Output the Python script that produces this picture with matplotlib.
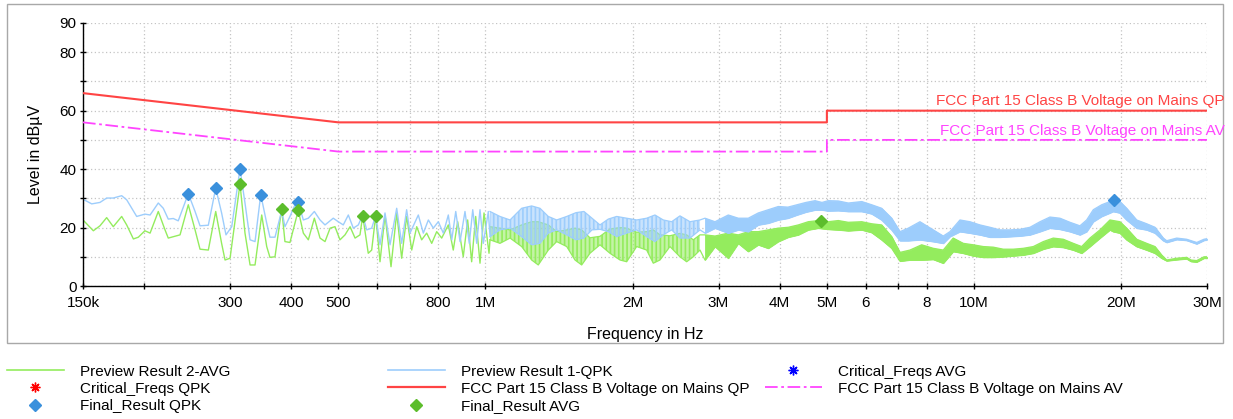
import numpy as np
import matplotlib
matplotlib.use('Agg')
import matplotlib.pyplot as plt
from matplotlib.lines import Line2D
from matplotlib.patches import Rectangle

plt.rcParams['font.family'] = ['Liberation Sans', 'DejaVu Sans']
plt.rcParams['hatch.linewidth'] = 1.2

# ---------------- data (frequency in MHz, level in dBuV) ----------------
# Preview Result 1-QPK, resolvable part (150 kHz .. 1 MHz)
qpk_line_f = [0.150, 0.1563, 0.1625, 0.1677, 0.1730, 0.1800, 0.1843, 0.1932, 0.2008, 0.2058,
              0.2139, 0.2190, 0.2242, 0.2296, 0.2350, 0.2464, 0.2544, 0.2604, 0.2708, 0.2804,
              0.2883, 0.2943, 0.3024, 0.3144, 0.3219, 0.3297, 0.3375, 0.3467, 0.3566, 0.3621,
              0.3708, 0.3827, 0.3886, 0.3979, 0.4074, 0.4138, 0.4238, 0.4339, 0.4464, 0.4585,
              0.4694, 0.4880, 0.4996, 0.5116, 0.5239, 0.5364, 0.5492, 0.5607, 0.5714, 0.5849,
              0.5961, 0.6083, 0.6228, 0.6377, 0.6581, 0.6737, 0.6897, 0.7006, 0.7287, 0.7461,
              0.7640, 0.7821, 0.8007, 0.8199, 0.8394, 0.8531, 0.8693, 0.8871, 0.9080, 0.9266,
              0.9418, 0.9596, 0.9746, 0.9900, 1.0136]
qpk_line = [29.7, 28.1, 28.6, 30.1, 30.1, 30.9, 29.5, 23.8, 24.6, 24.3,
            28.4, 26.6, 22.9, 23.1, 22.3, 31.6, 25.5, 20.6, 20.8, 33.5,
            25.0, 17.5, 20.3, 40.1, 28.4, 15.8, 15.2, 31.3, 21.5, 16.7,
            16.7, 25.8, 20.3, 23.8, 27.8, 28.7, 22.6, 23.2, 25.5, 22.6,
            20.9, 23.2, 22.0, 20.9, 24.3, 19.8, 20.9, 24.3, 19.2, 19.8,
            24.1, 14.1, 25.0, 14.1, 26.6, 14.6, 26.1, 18.1, 24.3, 18.1,
            22.6, 19.8, 22.0, 18.1, 24.3, 15.8, 25.5, 15.2, 25.5, 14.6,
            26.1, 14.6, 26.1, 14.6, 25.5]

# Preview Result 2-AVG, resolvable part
avg_line_f = [0.150, 0.1575, 0.1625, 0.1677, 0.1730, 0.1800, 0.1843, 0.1902, 0.1947, 0.2008,
              0.2058, 0.2139, 0.2208, 0.2242, 0.2370, 0.2464, 0.2544, 0.2604, 0.2708, 0.2804,
              0.2883, 0.2930, 0.3000, 0.3144, 0.3219, 0.3297, 0.3375, 0.3483, 0.3566, 0.3621,
              0.3708, 0.3827, 0.3886, 0.3979, 0.4138, 0.4238, 0.4339, 0.4464, 0.4585, 0.4694,
              0.4808, 0.4920, 0.5037, 0.5158, 0.5282, 0.5408, 0.5535, 0.5607, 0.5755, 0.5849,
              0.5961, 0.6083, 0.6228, 0.6407, 0.6581, 0.6737, 0.6897, 0.7064, 0.7232, 0.7403,
              0.7580, 0.7762, 0.7947, 0.8136, 0.8394, 0.8592, 0.8772, 0.9006, 0.9195, 0.9370,
              0.9550, 0.9746, 0.9932, 1.0169]
avg_line = [22.6, 18.9, 20.6, 23.4, 20.3, 23.8, 20.9, 16.1, 16.7, 18.9,
            18.1, 25.5, 19.2, 16.4, 17.5, 27.8, 19.2, 12.6, 12.3, 25.5,
            14.6, 8.9, 9.5, 34.9, 18.1, 7.2, 7.2, 24.3, 13.5, 9.8,
            10.0, 26.4, 15.2, 14.9, 25.9, 18.1, 15.8, 23.2, 16.4, 15.2,
            19.8, 20.3, 15.8, 17.5, 20.3, 16.4, 17.5, 24.1, 11.2, 12.3,
            24.1, 8.3, 24.3, 6.6, 25.0, 9.5, 23.8, 12.3, 20.3, 15.8,
            18.1, 14.6, 18.6, 16.4, 20.9, 12.3, 22.0, 10.0, 22.6, 8.3,
            23.8, 7.8, 25.0, 11.2]

# dense part (1 MHz .. 30 MHz): upper / lower envelope of the fast ripple
qpk_band_f = [1.0217, 1.0709, 1.1228, 1.1860, 1.2432, 1.2930, 1.3448, 1.3989, 1.4666, 1.5321,
              1.5910, 1.6522, 1.7156, 1.7841, 1.8561, 1.9458, 2.0398, 2.1380, 2.2233, 2.3121,
              2.4054, 2.5014, 2.6225, 2.7492,
              2.8146, 2.9505, 3.1412, 3.2931, 3.4512, 3.6180, 3.7928, 3.9755, 4.1619, 4.3421,
              4.5300, 4.7273, 4.8857, 5.0330, 5.2758, 5.5305, 5.8922, 6.1751, 6.4728, 6.7854, 7.0565,
              7.3382, 7.7531, 8.2544, 8.6528, 8.9301, 9.3618, 9.8130, 10.288, 10.785, 11.306,
              11.852, 12.423, 13.023, 13.653, 14.309, 15.000, 15.724, 16.481, 17.011, 17.550,
              18.259, 18.986,
              19.281, 19.899, 20.538, 21.532, 22.573, 23.475, 24.411, 24.808, 26.007, 27.258,
              28.575, 29.573, 30.0]
qpk_band_hi = [25.5, 23.8, 22.6, 26.6, 27.4, 26.6, 23.8, 22.6, 23.8, 25.1,
               25.5, 23.2, 20.9, 22.9, 23.8, 23.2, 22.6, 23.2, 24.3, 22.6,
               22.0, 24.0, 22.0, 22.6,
               23.2, 22.0, 24.3, 23.2, 23.2, 25.0, 26.1, 27.2, 27.0, 27.8,
               28.6, 29.2, 28.6, 29.2, 29.1, 28.4, 28.9, 27.8, 26.6, 23.2, 18.6,
               19.8, 22.0, 19.2, 17.1, 18.6, 22.6, 22.0, 20.9, 20.1, 19.2,
               19.2, 19.4, 20.1, 22.0, 23.6, 23.2, 21.8, 20.6, 22.6, 26.1,
               27.8, 28.9,
               29.5, 28.9, 26.6, 22.6, 21.3, 20.1, 16.4, 15.5, 16.4, 16.0,
               14.9, 16.0, 16.2]
qpk_band_lo = [16.9, 19.2, 19.8, 16.9, 14.1, 14.6, 18.1, 19.2, 17.5, 15.8,
               16.4, 19.2, 19.4, 18.6, 16.9, 18.1, 19.2, 16.9, 15.2, 17.5,
               19.2, 16.4, 16.4, 19.2,
               18.1, 19.8, 18.1, 19.2, 18.6, 20.9, 21.5, 22.6, 23.2, 24.3,
               25.3, 26.0, 26.0, 25.7, 25.8, 25.5, 25.5, 24.7, 22.6, 19.2, 15.5,
               15.5, 15.8, 15.2, 14.6, 16.9, 18.6, 18.1, 17.5, 16.7, 16.7,
               16.9, 17.1, 17.5, 18.6, 19.8, 19.4, 18.6, 17.5, 18.6, 22.0,
               23.8, 25.0,
               25.5, 25.0, 22.6, 19.8, 19.2, 18.1, 15.5, 14.9, 15.9, 15.6,
               14.4, 15.6, 15.8]

avg_band_f = [1.0217, 1.0709, 1.1228, 1.1860, 1.2432, 1.2827, 1.3448, 1.3989, 1.4666, 1.5250,
              1.5739, 1.6366, 1.7156, 1.7985, 1.8855, 1.9458, 2.0398, 2.1380, 2.2059, 2.2766,
              2.3861, 2.5014, 2.5817, 2.6634, 2.7492,
              2.8146, 2.9505, 3.1412, 3.2931, 3.4512, 3.6180, 3.7928, 3.9755, 4.1678, 4.3691,
              4.5794, 4.8009, 5.0330, 5.2758, 5.5305, 5.8922, 6.1751, 6.4728, 6.7854, 7.0565,
              7.3959, 7.8159, 8.2544, 8.6528, 9.0692, 9.5081, 9.9680, 10.450, 10.953, 11.482,
              12.037, 12.619, 13.229, 13.866, 14.534, 15.236, 15.969, 16.614, 17.277, 18.113,
              18.986,
              19.281, 19.899, 20.538, 21.532, 22.573, 23.475, 24.226, 24.808, 26.007, 27.258,
              27.816, 28.575, 29.573, 30.0]
avg_band_hi = [20.3, 19.8, 19.2, 20.9, 22.0, 22.0, 20.9, 18.6, 19.2, 19.8,
               19.2, 16.5, 17.0, 19.5, 20.0, 19.8, 18.4, 18.6, 19.2, 17.5,
               17.2, 18.0, 17.5, 15.8, 17.5,
               17.5, 17.1, 18.1, 17.5, 18.6, 18.6, 19.2, 19.8, 20.1, 20.9,
               22.0, 22.4, 22.0, 22.4, 21.8, 22.0, 21.3, 20.9, 16.9, 11.5,
               12.3, 14.1, 12.9, 12.3, 16.4, 14.6, 14.1, 13.5, 13.3, 12.6,
               12.6, 12.9, 13.5, 15.2, 16.4, 16.0, 14.6, 13.5, 16.4, 19.2,
               22.6,
               22.4, 22.0, 19.8, 16.0, 14.6, 13.5, 10.6, 8.9, 9.5, 9.8,
               8.9, 8.7, 10.0, 10.0]
avg_band_lo = [15.8, 14.6, 16.4, 13.5, 8.9, 7.2, 12.3, 15.2, 13.5, 8.9,
               7.2, 11.2, 14.1, 11.2, 8.9, 8.3, 13.5, 12.3, 7.8, 8.9,
               13.5, 10.0, 8.3, 10.0, 12.3,
               8.9, 13.5, 9.5, 14.6, 11.8, 14.1, 12.9, 15.2, 16.7, 17.5,
               19.2, 19.8, 19.4, 19.2, 18.9, 19.2, 18.3, 15.8, 12.9, 8.5,
               8.9, 8.9, 9.1, 7.8, 11.8, 11.2, 10.3, 9.8, 9.8, 10.0,
               10.3, 10.6, 11.2, 12.6, 13.5, 13.2, 12.3, 11.2, 13.5, 16.4,
               19.2,
               18.6, 18.1, 15.8, 13.5, 12.3, 11.2, 9.5, 8.6, 9.0, 9.3,
               8.4, 8.2, 9.5, 9.5]

# limits
qp_lim_f = [0.15, 0.5, 5.0, 5.0, 30.0]
qp_lim = [66, 56, 56, 60, 60]
av_lim_f = [0.15, 0.5, 5.0, 5.0, 30.0]
av_lim = [56, 46, 46, 50, 50]

# final results / critical frequencies
final_qpk_f = [0.2458, 0.2805, 0.3144, 0.3467, 0.4140, 19.38]
final_qpk = [31.6, 33.5, 40.1, 31.3, 28.7, 29.4]
final_avg_f = [0.3144, 0.3827, 0.4140, 0.5606, 0.5960, 4.854]
final_avg = [34.9, 26.4, 25.9, 24.1, 24.1, 22.3]
crit_qpk_f = [0.3144]
crit_qpk = [40.1]
crit_avg_f = [4.854]
crit_avg = [22.3]

x_ticks = [0.15, 0.2, 0.3, 0.4, 0.5, 0.6, 0.7, 0.8, 1, 2, 3, 4, 5, 6, 7, 8, 10, 20, 30]
x_tick_labels = ['150k', '', '300', '400', '500', '', '', '800', '1M', '2M', '3M', '4M', '5M',
                 '6', '', '8', '10M', '20M', '30M']
y_ticks = [0, 10, 20, 30, 40, 50, 60, 70, 80, 90]
y_tick_labels = ['0', '', '20', '', '40', '', '60', '', '80', '90']

# ---------------- styling ----------------
C_QPK = '#9dcdfc'
C_AVG = '#94ec5e'
C_QP = '#ff4444'
C_AV = '#ff44ff'
C_FQ = '#3a90dc'
C_FA = '#5cbd2c'

W, H = 1233, 419
fig = plt.figure(figsize=(W / 100, H / 100), dpi=100)
ax = fig.add_axes([83 / W, 1 - 286 / H, 1124 / W, 263 / H])
ax.set_xscale('log')
ax.set_xlim(0.15, 30)
ax.set_ylim(0, 90)

ax.grid(True, which='major', color='#c4c4c4', linestyle=(0, (1, 2)), linewidth=0.9)
ax.set_axisbelow(True)
for s in ['top', 'right']:
    ax.spines[s].set_visible(False)
for s in ['left', 'bottom']:
    ax.spines[s].set_linewidth(1.0)
    ax.spines[s].set_color('black')

ax.set_xticks(x_ticks)
ax.set_xticklabels(x_tick_labels)
ax.xaxis.set_minor_locator(matplotlib.ticker.NullLocator())
ax.set_yticks(y_ticks)
ax.set_yticklabels(y_tick_labels)
ax.tick_params(axis='both', direction='inout', length=5, width=1, labelsize=11, colors='black')
ax.tick_params(axis='x', pad=5)
ax.tick_params(axis='y', pad=2)


def draw_band(f, lo, hi, color, split_f):
    f = np.asarray(f); lo = np.asarray(lo); hi = np.asarray(hi)
    m1 = f <= split_f
    m2 = f >= split_f
    # fast ripple region: light body plus dense vertical strokes
    ax.fill_between(f[m1], lo[m1], hi[m1], facecolor=color, alpha=0.55,
                    linewidth=0, zorder=2)
    ax.fill_between(f[m1], lo[m1], hi[m1], facecolor='none', edgecolor=color,
                    hatch='||||', linewidth=0, zorder=2)
    # very dense ripple: solid band
    ax.fill_between(f[m2], lo[m2], hi[m2], facecolor=color, edgecolor=color,
                    linewidth=0.6, zorder=2)
    ax.plot(f, hi, color=color, lw=0.9, zorder=2)
    ax.plot(f, lo, color=color, lw=0.9, zorder=2)


ax.plot(avg_line_f + [avg_band_f[0]], avg_line + [avg_band_lo[0]], color=C_AVG, lw=1.0, zorder=2)
draw_band(avg_band_f, avg_band_lo, avg_band_hi, C_AVG, 2.75)
ax.plot(qpk_line_f + [qpk_band_f[0]], qpk_line + [qpk_band_lo[0]], color=C_QPK, lw=1.0, zorder=2.1)
draw_band(qpk_band_f, qpk_band_lo, qpk_band_hi, C_QPK, 2.75)

ax.plot(qp_lim_f, qp_lim, color=C_QP, lw=1.5, zorder=3)
ax.plot(av_lim_f, av_lim, color=C_AV, lw=1.3, dashes=(7, 2, 1.5, 2), zorder=3)

ax.plot(crit_qpk_f, crit_qpk, linestyle='none', marker=(8, 2, 0), color='red', ms=5.5, mew=1, zorder=4)
ax.plot(crit_avg_f, crit_avg, linestyle='none', marker=(8, 2, 0), color='blue', ms=5, mew=1, zorder=4)
ax.plot(final_qpk_f, final_qpk, linestyle='none', marker='D', color=C_FQ, ms=6.5, zorder=5)
ax.plot(final_avg_f, final_avg, linestyle='none', marker='D', color=C_FA, ms=6.5, zorder=5)

ax.set_xlabel('Frequency in Hz', fontsize=11.5, labelpad=12)
ax.set_ylabel('Level in dB\u00b5V', fontsize=11.5, labelpad=12)

fig.text(1225 / W, 1 - 101 / H, 'FCC Part 15 Class B Voltage on Mains QP', color=C_QP,
         fontsize=11, ha='right', va='center')
fig.text(1225 / W, 1 - 131 / H, 'FCC Part 15 Class B Voltage on Mains AV', color=C_AV,
         fontsize=11, ha='right', va='center')

fig.add_artist(Rectangle((7 / W, 1 - 343 / H), (1223 - 7) / W, (343 - 4) / H,
                         transform=fig.transFigure, fill=False, edgecolor='#a8a8a8', lw=1))

# legend (three columns placed like the original)
h_avg = Line2D([], [], color=C_AVG, lw=1.2)
h_qpk = Line2D([], [], color=C_QPK, lw=1.2)
h_cq = Line2D([], [], linestyle='none', marker=(8, 2, 0), color='red', ms=7, mew=1)
h_ca = Line2D([], [], linestyle='none', marker=(8, 2, 0), color='blue', ms=7, mew=1)
h_fq = Line2D([], [], linestyle='none', marker='D', color=C_FQ, ms=6.5)
h_fa = Line2D([], [], linestyle='none', marker='D', color=C_FA, ms=6.5)
h_qp = Line2D([], [], color=C_QP, lw=1.6)
h_av = Line2D([], [], color=C_AV, lw=1.3, dashes=(7, 2, 1.5, 2))

cols = [
    (7, [h_avg, h_cq, h_fq], ['Preview Result 2-AVG', 'Critical_Freqs QPK', 'Final_Result QPK']),
    (388, [h_qpk, h_qp, h_fa], ['Preview Result 1-QPK', 'FCC Part 15 Class B Voltage on Mains QP',
                                'Final_Result AVG']),
    (765, [h_ca, h_av], ['Critical_Freqs AVG', 'FCC Part 15 Class B Voltage on Mains AV']),
]
for xpx, hs, ls in cols:
    lg = fig.legend(hs, ls, loc='upper left', bbox_to_anchor=(xpx / W, 1 - 364.5 / H),
                    frameon=False, fontsize=11, handlelength=3.7, handletextpad=1.1,
                    labelspacing=0.21, borderpad=0, borderaxespad=0)

fig.savefig('out.png', dpi=100)
